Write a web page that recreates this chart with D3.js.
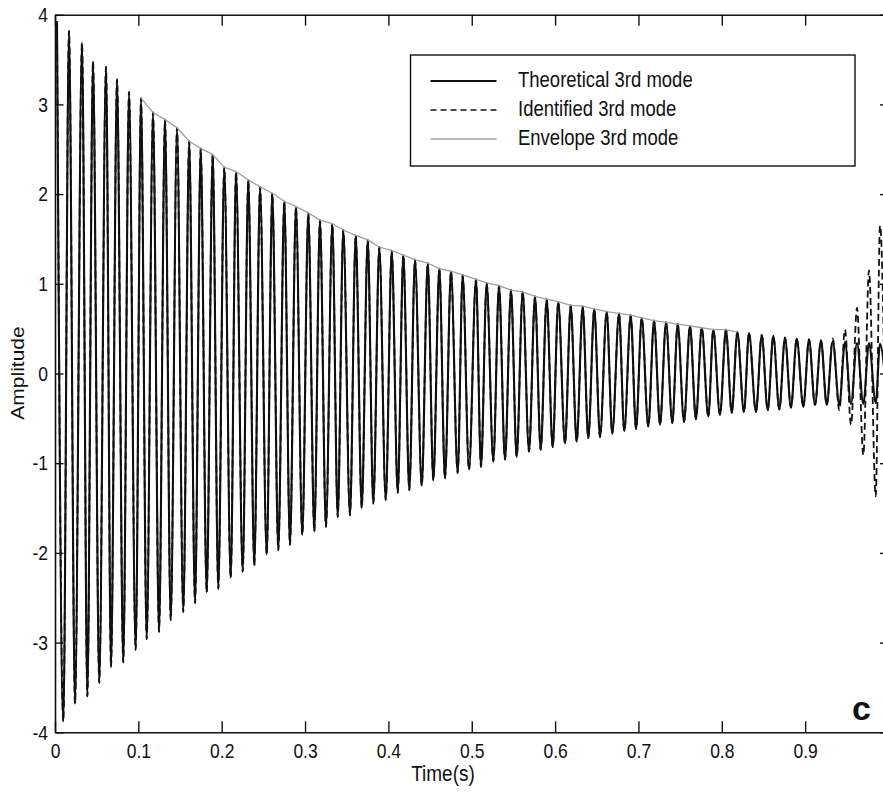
<!DOCTYPE html>
<html>
<head>
<meta charset="utf-8">
<script src="https://cdn.jsdelivr.net/npm/d3@7"></script>
<style>
	body { margin: 0; background: #fff; }
	svg { display: block; }
	text { font-family: "Liberation Sans", Arial, sans-serif; fill: #111; }
</style>
</head>
<body>
<div id="chart"></div>
<script>
// time of each positive peak (s)
const peakTime = [0.0024, 0.0168, 0.0324, 0.0456, 0.0612, 0.0744, 0.0888, 0.1032, 0.1176, 0.1320,
	0.1464, 0.1610, 0.1748, 0.1892, 0.2031, 0.2172, 0.2319, 0.2460, 0.2607, 0.2751,
	0.2891, 0.3039, 0.3179, 0.3327, 0.3459, 0.3608, 0.3752, 0.3891, 0.4040, 0.4179,
	0.4319, 0.4472, 0.4611, 0.4751, 0.4891, 0.5051, 0.5179, 0.5327, 0.5471, 0.5611,
	0.5759, 0.5899, 0.6038, 0.6187, 0.6331, 0.6470, 0.6619, 0.6767, 0.6907, 0.7039,
	0.7187, 0.7331, 0.7471, 0.7618, 0.7759, 0.7898, 0.8050, 0.8186, 0.8326, 0.8479,
	0.8618, 0.8758, 0.8899, 0.9046, 0.9190, 0.9331, 0.9478, 0.9622, 0.9766, 0.9898];

// theoretical 3rd mode, positive peaks
const peakTheo = [3.93, 3.82, 3.69, 3.48, 3.42, 3.28, 3.14, 3.07, 2.91, 2.83,
	2.74, 2.59, 2.51, 2.44, 2.30, 2.25, 2.16, 2.08, 2.01, 1.92,
	1.86, 1.79, 1.71, 1.67, 1.60, 1.54, 1.49, 1.41, 1.37, 1.32,
	1.27, 1.23, 1.17, 1.14, 1.10, 1.05, 1.01, 0.98, 0.93, 0.91,
	0.86, 0.83, 0.80, 0.76, 0.75, 0.72, 0.69, 0.67, 0.65, 0.62,
	0.59, 0.57, 0.55, 0.53, 0.51, 0.49, 0.49, 0.46, 0.45, 0.43,
	0.42, 0.40, 0.39, 0.38, 0.37, 0.36, 0.35, 0.34, 0.34, 0.33];

// time of each negative trough (s)
const troughTime = [0.0100, 0.0240, 0.0388, 0.0531, 0.0672, 0.0819, 0.0968, 0.1100, 0.1248, 0.1388,
	0.1539, 0.1680, 0.1820, 0.1959, 0.2108, 0.2252, 0.2391, 0.2540, 0.2679, 0.2819,
	0.2967, 0.3111, 0.3251, 0.3392, 0.3539, 0.3680, 0.3819, 0.3968, 0.4112, 0.4251,
	0.4400, 0.4539, 0.4679, 0.4831, 0.4967, 0.5111, 0.5259, 0.5399, 0.5539, 0.5687,
	0.5827, 0.5971, 0.6119, 0.6259, 0.6398, 0.6539, 0.6686, 0.6830, 0.6971, 0.7118,
	0.7259, 0.7406, 0.7547, 0.7690, 0.7838, 0.7978, 0.8119, 0.8266, 0.8410, 0.8551,
	0.8690, 0.8830, 0.8978, 0.9118, 0.9259, 0.9410, 0.9550, 0.9698, 0.9847, 0.9982];

// theoretical 3rd mode, negative troughs
const troughTheo = [-3.88, -3.68, -3.60, -3.45, -3.27, -3.22, -3.08, -2.96, -2.88, -2.75,
	-2.66, -2.56, -2.44, -2.40, -2.28, -2.21, -2.14, -2.02, -1.97, -1.91,
	-1.80, -1.76, -1.71, -1.60, -1.58, -1.50, -1.45, -1.41, -1.33, -1.30,
	-1.25, -1.19, -1.17, -1.11, -1.07, -1.04, -0.98, -0.96, -0.93, -0.87,
	-0.85, -0.82, -0.78, -0.76, -0.72, -0.71, -0.67, -0.64, -0.62, -0.59,
	-0.57, -0.55, -0.54, -0.51, -0.48, -0.46, -0.44, -0.43, -0.43, -0.41,
	-0.40, -0.38, -0.37, -0.35, -0.35, -0.35, -0.34, -0.34, -0.33, -0.33];

// identified 3rd mode follows the theoretical one, except the last 5 cycles
const identTailPeak = [0.39, 0.49, 0.73, 1.15, 1.65];
const identTailTrough = [-0.41, -0.57, -0.91, -1.37, -2.00];

// envelope drawn from 0.1 s to 0.82 s through the peaks
const envFrom = 7, envTo = 57;

const xTicks = [0, 0.1, 0.2, 0.3, 0.4, 0.5, 0.6, 0.7, 0.8, 0.9, 1];
const xTickLabels = ['0', '0.1', '0.2', '0.3', '0.4', '0.5', '0.6', '0.7', '0.8', '0.9', ''];
const yTicks = [-4, -3, -2, -1, 0, 1, 2, 3, 4];
const yTickLabels = ['-4', '-3', '-2', '-1', '0', '1', '2', '3', '4'];
const legendNames = ['Theoretical 3rd mode', 'Identified 3rd mode', 'Envelope 3rd mode'];

const width = 883;
const height = 792;
const plotL = 55, plotR = 888.5, plotT = 14.7, plotB = 732.3;
const textScale = 'scale(1,1.2)';

x = d3.scaleLinear().domain([0, 1]).range([plotL, plotR]);
y = d3.scaleLinear().domain([-4, 4]).range([plotB, plotT]);

// peaks and troughs alternate in time
function buildSeries(pk, tr) {
	const pts = [];
	for (let i = 0; i < peakTime.length; i++) {
		pts.push([peakTime[i], pk[i]]);
		pts.push([troughTime[i], tr[i]]);
	}
	return pts;
}

const n = peakTime.length;
const identPeak = peakTheo.slice(0, n - identTailPeak.length).concat(identTailPeak);
const identTrough = troughTheo.slice(0, n - identTailTrough.length).concat(identTailTrough);

const theo = buildSeries(peakTheo, troughTheo);
const ident = buildSeries(identPeak, identTrough);
const env = peakTime.slice(envFrom, envTo + 1).map((t, i) => [t, peakTheo[envFrom + i]]);

const svg = d3.select('#chart')
	.append('svg')
	.attr('width', width)
	.attr('height', height);

svg.append('defs').append('clipPath').attr('id', 'clip')
	.append('rect')
	.attr('x', plotL).attr('y', plotT)
	.attr('width', plotR - plotL).attr('height', plotB - plotT);

const wave = d3.line()
	.x(d => x(d[0]))
	.y(d => y(d[1]))
	.curve(d3.curveMonotoneX);

const plot = svg.append('g').attr('clip-path', 'url(#clip)');

plot.append('path')
	.attr('d', wave(theo))
	.attr('fill', 'none')
	.attr('stroke', '#111')
	.attr('stroke-width', 2.1);

plot.append('path')
	.attr('d', wave(ident))
	.attr('fill', 'none')
	.attr('stroke', '#111')
	.attr('stroke-width', 1.8)
	.attr('stroke-dasharray', '7,4');

plot.append('path')
	.attr('d', d3.line().x(d => x(d[0])).y(d => y(d[1]))(env))
	.attr('fill', 'none')
	.attr('stroke', '#a0a0a0')
	.attr('stroke-width', 1.3);

// axes, ticks pointing inward
const bottom = svg.append('g')
	.attr('transform', `translate(0,${plotB})`)
	.call(d3.axisBottom(x).tickValues(xTicks).tickSize(-11).tickSizeOuter(0)
		.tickFormat((d, i) => xTickLabels[i]));
bottom.selectAll('text')
	.attr('y', 21.4).attr('dy', 0)
	.attr('transform', textScale)
	.style('font-size', '17.5px');

svg.append('g')
	.attr('transform', `translate(0,${plotT})`)
	.call(d3.axisTop(x).tickValues(xTicks).tickSize(-11).tickSizeOuter(0).tickFormat(''));

const left = svg.append('g')
	.attr('transform', `translate(${plotL},0)`)
	.call(d3.axisLeft(y).tickValues(yTicks).tickSize(-8.5).tickSizeOuter(0).tickPadding(7)
		.tickFormat((d, i) => yTickLabels[i]));
left.selectAll('text')
	.attr('transform', textScale)
	.style('font-size', '17.5px');

svg.append('g')
	.attr('transform', `translate(${plotR},0)`)
	.call(d3.axisRight(y).tickValues(yTicks).tickSize(-8.5).tickSizeOuter(0).tickFormat(''));

svg.selectAll('.domain').attr('stroke', '#111').attr('stroke-width', 1.6);
svg.selectAll('.tick line').attr('stroke', '#111').attr('stroke-width', 1.4);
svg.selectAll('.tick text').attr('fill', '#111').style('font-family', '"Liberation Sans", Arial, sans-serif');

svg.append('text')
	.attr('transform', `translate(443,781) ${textScale}`)
	.attr('text-anchor', 'middle')
	.style('font-size', '19px')
	.text('Time(s)');

svg.append('text')
	.attr('transform', `translate(24,373) rotate(-90) scale(1.2,1)`)
	.attr('text-anchor', 'middle')
	.style('font-size', '17.5px')
	.text('Amplitude');

svg.append('text')
	.attr('x', 852)
	.attr('y', 720)
	.style('font-size', '34px')
	.style('font-weight', 'bold')
	.text('c');

// legend
const legend = svg.append('g');
legend.append('rect')
	.attr('x', 410.5).attr('y', 55)
	.attr('width', 444.5).attr('height', 111)
	.attr('fill', '#fff')
	.attr('stroke', '#111')
	.attr('stroke-width', 1.4);

const legendStyle = [
	{ stroke: '#111', dash: null, w: 1.8 },
	{ stroke: '#111', dash: '6,4', w: 1.6 },
	{ stroke: '#a0a0a0', dash: null, w: 1.3 }
];
legendNames.forEach((name, i) => {
	const ly = 81 + i * 29;
	legend.append('line')
		.attr('x1', 430.5).attr('x2', 496.5)
		.attr('y1', ly).attr('y2', ly)
		.attr('stroke', legendStyle[i].stroke)
		.attr('stroke-width', legendStyle[i].w)
		.attr('stroke-dasharray', legendStyle[i].dash);
	legend.append('text')
		.attr('transform', `translate(518,${ly + 6}) scale(1,1.15)`)
		.style('font-size', '18.5px')
		.text(name);
});
</script>
</body>
</html>
